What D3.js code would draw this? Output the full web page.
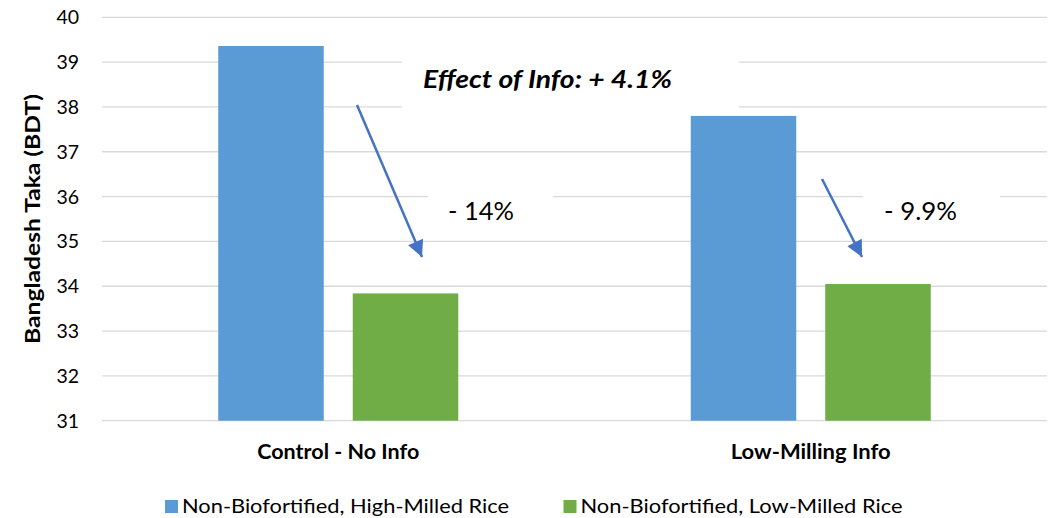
<!DOCTYPE html>
<html>
<head>
<meta charset="utf-8">
<script src="https://cdn.jsdelivr.net/npm/d3@7"></script>
<style>
  html, body { margin: 0; padding: 0; background: #fff; }
  svg { display: block; font-family: Lato, "Open Sans", sans-serif; }
</style>
</head>
<body>
<svg id="chart" width="1048" height="518"></svg>
<script>
// ---- data ----
const categories = ["Control - No Info", "Low-Milling Info"];
const seriesNames = ["Non-Biofortified, High-Milled Rice", "Non-Biofortified, Low-Milled Rice"];
const highMilled = [39.36, 37.80];
const lowMilled = [33.84, 34.05];
const yTicks = [31, 32, 33, 34, 35, 36, 37, 38, 39, 40];
const yTitle = "Bangladesh Taka (BDT)";
const annotationTexts = ["Effect of Info: + 4.1%", "- 14%", "- 9.9%"];

// ---- layout ----
const W = 1048, H = 518;
const plot = { left: 102, right: 1047, top: 17.3, bottom: 420.7 };
const colors = ["#5B9BD5", "#70AD47"];
const arrowColor = "#4472C4";
const gridColor = "#D9D9D9";
// target text widths (to mimic the reference font metrics)
const catLabelWidths = [162, 160];
const legendWidths = [327, 322];

const svg = d3.select("#chart");

const x = d3.scaleBand().domain(categories)
  .range([plot.left, plot.right]).paddingInner(0.492).paddingOuter(0.246);
const xs = d3.scaleBand().domain(d3.range(seriesNames.length))
  .range([0, x.bandwidth()]).paddingInner(0.2156).paddingOuter(0);
const y = d3.scaleLinear().domain([31, 40]).range([plot.bottom, plot.top]);

// gridlines
svg.append("g").selectAll("line").data(yTicks).join("line")
  .attr("x1", plot.left).attr("x2", plot.right)
  .attr("y1", d => y(d)).attr("y2", d => y(d))
  .attr("stroke", gridColor).attr("stroke-width", 1.3);

// white annotation boxes (hide gridlines behind text)
const boxes = [
  { x: 402, y: 50, w: 337, h: 64 },
  { x: 428, y: 175, w: 125, h: 55 },
  { x: 863, y: 175, w: 137, h: 55 }
];
svg.append("g").selectAll("rect").data(boxes).join("rect")
  .attr("x", d => d.x).attr("y", d => d.y).attr("width", d => d.w).attr("height", d => d.h)
  .attr("fill", "#fff");

// y tick labels
svg.append("g").selectAll("text").data(yTicks).join("text")
  .attr("x", 79).attr("y", d => y(d) + 7)
  .attr("text-anchor", "end")
  .attr("font-size", 19.5).attr("fill", "#000")
  .text(d => d);

// y title
svg.append("text")
  .attr("transform", `translate(39.5,${(plot.top + plot.bottom) / 2}) rotate(-90)`)
  .attr("text-anchor", "middle")
  .attr("font-size", 20).attr("font-weight", "bold").attr("fill", "#000")
  .attr("textLength", 250).attr("lengthAdjust", "spacingAndGlyphs")
  .text(yTitle);

// bars
const seriesData = [highMilled, lowMilled];
const groups = svg.append("g").selectAll("g").data(categories).join("g")
  .attr("transform", d => `translate(${x(d)},0)`);
groups.selectAll("rect").data((c, ci) => seriesData.map((s, si) => ({ si, v: s[ci] })))
  .join("rect")
  .attr("x", d => xs(d.si)).attr("width", xs.bandwidth())
  .attr("y", d => y(d.v)).attr("height", d => y(31) - y(d.v))
  .attr("fill", d => colors[d.si]);

// category labels
svg.append("g").selectAll("text").data(categories).join("text")
  .attr("x", d => x(d) + x.bandwidth() / 2).attr("y", 459)
  .attr("text-anchor", "middle")
  .attr("font-size", 20).attr("font-weight", "bold").attr("fill", "#000")
  .attr("textLength", (d, i) => catLabelWidths[i]).attr("lengthAdjust", "spacingAndGlyphs")
  .text(d => d);

// annotations
svg.append("text").attr("x", 423).attr("y", 88)
  .attr("font-size", 25.5).attr("font-weight", "bold").attr("font-style", "italic")
  .attr("textLength", 249).attr("lengthAdjust", "spacingAndGlyphs")
  .attr("fill", "#000").text(annotationTexts[0]);
svg.append("text").attr("x", 448).attr("y", 220)
  .attr("font-size", 25.5).attr("fill", "#000")
  .attr("textLength", 66).attr("lengthAdjust", "spacingAndGlyphs")
  .text(annotationTexts[1]);
svg.append("text").attr("x", 884).attr("y", 219.5)
  .attr("font-size", 25.5).attr("fill", "#000")
  .attr("textLength", 73).attr("lengthAdjust", "spacingAndGlyphs")
  .text(annotationTexts[2]);

// arrows
const defs = svg.append("defs");
defs.append("marker").attr("id", "ah")
  .attr("viewBox", "0 0 10 10").attr("refX", 10).attr("refY", 5)
  .attr("markerWidth", 7.5).attr("markerHeight", 6.5).attr("markerUnits", "strokeWidth")
  .attr("orient", "auto")
  .append("path").attr("d", "M0,0 L10,5 L0,10 Z").attr("fill", arrowColor);
const arrows = [
  { x1: 357, y1: 105, x2: 422, y2: 257 },
  { x1: 822, y1: 179, x2: 862, y2: 257 }
];
svg.append("g").selectAll("line").data(arrows).join("line")
  .attr("x1", d => d.x1).attr("y1", d => d.y1).attr("x2", d => d.x2).attr("y2", d => d.y2)
  .attr("stroke", arrowColor).attr("stroke-width", 2.5)
  .attr("marker-end", "url(#ah)");

// legend
const legendPos = [165, 563.5];
const lg = svg.append("g").selectAll("g").data(seriesNames).join("g")
  .attr("transform", (d, i) => `translate(${legendPos[i]},0)`);
lg.append("rect").attr("x", 0).attr("y", 500).attr("width", 13).attr("height", 13)
  .attr("fill", (d, i) => colors[i]);
lg.append("text").attr("x", 17).attr("y", 513)
  .attr("font-size", 19.5).attr("fill", "#000")
  .attr("textLength", (d, i) => legendWidths[i]).attr("lengthAdjust", "spacingAndGlyphs")
  .text(d => d);
</script>
</body>
</html>
